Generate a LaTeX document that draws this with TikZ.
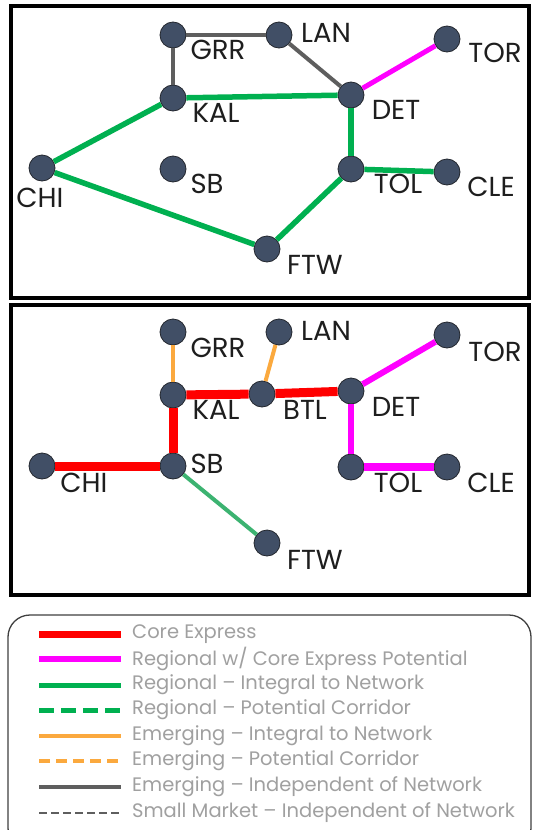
\documentclass[tikz,border=0pt]{standalone}
\usepackage{fontspec}
\setmainfont{Poppins}
\definecolor{stnfill}{HTML}{414F66}
\definecolor{stnline}{HTML}{23272E}
\definecolor{cgrey}{HTML}{5E5E5E}
\definecolor{cgreen}{HTML}{00B050}
\definecolor{clgreen}{HTML}{3CB371}
\definecolor{cmag}{HTML}{FF00FF}
\definecolor{cred}{HTML}{FF0000}
\definecolor{corange}{HTML}{FBA93E}
\definecolor{ctext}{HTML}{1E1E1E}
\definecolor{cleg}{HTML}{A0A0A0}
\begin{document}
\begin{tikzpicture}[x=1pt,y=-1pt,
  stn/.style={circle, fill=stnfill, draw=stnline, line width=0.8pt, minimum size=26pt, inner sep=0pt},
  lbl/.style={font=\fontsize{27.5}{27.5}\selectfont, text=ctext, inner sep=0pt},
  panel/.style={draw=black, line width=3.5pt},
  egrey/.style={draw=cgrey, line width=4pt},
  egreen/.style={draw=cgreen, line width=5.5pt},
  elgreen/.style={draw=clgreen, line width=4pt},
  emag/.style={draw=cmag, line width=6pt},
  ered/.style={draw=cred, line width=9pt},
  eorange/.style={draw=corange, line width=4pt},
  legtxt/.style={font=\fontsize{19.5}{19.5}\selectfont, text=cleg, anchor=west, inner sep=0pt},
]
\useasboundingbox (0,0) rectangle (535,830);
\fill[white] (0,0) rectangle (535,830);

% ---------- top panel ----------
\draw[panel] (11,6) rectangle (529,298);
\node[stn] (aGRR) at (173,35) {};
\node[stn] (aLAN) at (279,35) {};
\node[stn] (aTOR) at (447,39) {};
\node[stn] (aKAL) at (173,98) {};
\node[stn] (aDET) at (351,95) {};
\node[stn] (aCHI) at (42,168) {};
\node[stn] (aSB)  at (173,169) {};
\node[stn] (aTOL) at (351,169) {};
\node[stn] (aCLE) at (447,172) {};
\node[stn] (aFTW) at (267,249) {};
\draw[egrey] (aGRR) -- (aLAN);
\draw[egrey] (aGRR) -- (aKAL);
\draw[egrey] (aLAN) -- (aDET);
\draw[emag, line width=5pt] (aDET) -- (aTOR);
\draw[egreen] (aKAL) -- (aDET);
\draw[egreen] (aCHI) -- (aKAL);
\draw[egreen] (aCHI) -- (aFTW);
\draw[egreen] (aFTW) -- (aTOL);
\draw[egreen] (aDET) -- (aTOL);
\draw[egreen] (aTOL) -- (aCLE);
\node[lbl] (laGRR) at (218,50) {GRR};
\node[lbl] (laLAN) at (326,33) {LAN};
\node[lbl] (laTOR) at (495,53) {TOR};
\node[lbl] (laKAL) at (216,113) {KAL};
\node[lbl] (laDET) at (396,110) {DET};
\node[lbl] (laCHI) at (40,198) {CHI};
\node[lbl] (laSB)  at (207,184) {SB};
\node[lbl] (laTOL) at (398,184) {TOL};
\node[lbl] (laCLE) at (491,187) {CLE};
\node[lbl] (laFTW) at (315,265) {FTW};

% ---------- bottom panel ----------
\draw[panel] (11,305) rectangle (529,595);
\node[stn] (bGRR) at (173,332) {};
\node[stn] (bLAN) at (279,332) {};
\node[stn] (bTOR) at (447,335) {};
\node[stn] (bKAL) at (173,395) {};
\node[stn] (bBTL) at (262,394) {};
\node[stn] (bDET) at (351,391) {};
\node[stn] (bCHI) at (42,466) {};
\node[stn] (bSB)  at (173,466) {};
\node[stn] (bTOL) at (351,467) {};
\node[stn] (bCLE) at (447,467) {};
\node[stn] (bFTW) at (267,543) {};
\draw[eorange] (bGRR) -- (bKAL);
\draw[eorange] (bLAN) -- (bBTL);
\draw[ered] (bKAL) -- (bBTL);
\draw[ered] (bBTL) -- (bDET);
\draw[ered] (bKAL) -- (bSB);
\draw[ered] (bCHI) -- (bSB);
\draw[emag] (bDET) -- (bTOR);
\draw[emag] (bDET) -- (bTOL);
\draw[emag, line width=8pt] (bTOL) -- (bCLE);
\draw[elgreen] (bSB) -- (bFTW);
\node[lbl] (lbGRR) at (218,348) {GRR};
\node[lbl] (lbLAN) at (326,331) {LAN};
\node[lbl] (lbTOR) at (495,352) {TOR};
\node[lbl] (lbKAL) at (216,410) {KAL};
\node[lbl] (lbBTL) at (305,410) {BTL};
\node[lbl] (lbDET) at (396,407) {DET};
\node[lbl] (lbCHI) at (84,483) {CHI};
\node[lbl] (lbSB)  at (207,464) {SB};
\node[lbl] (lbTOL) at (398,483) {TOL};
\node[lbl] (lbCLE) at (491,483) {CLE};
\node[lbl] (lbFTW) at (315,560) {FTW};

% ---------- legend ----------
\draw[draw=black!75, line width=1.3pt, rounded corners=22pt] (8,615) rectangle (531,850);
\draw[cred, line width=7pt] (39,634) -- (121,634);
\draw[cmag, line width=6pt] (39,659) -- (121,659);
\draw[cgreen, line width=5pt] (39,685) -- (121,685);
\draw[cgreen, line width=5pt, dash pattern=on 15pt off 7pt] (39,710) -- (121,710);
\draw[corange, line width=3.5pt] (39,736) -- (121,736);
\draw[corange, line width=3.5pt, dash pattern=on 10.5pt off 6.5pt] (39,761) -- (121,761);
\draw[cgrey, line width=4pt] (39,787) -- (121,787);
\draw[cgrey, line width=2.2pt, dash pattern=on 8pt off 4pt] (39,813) -- (121,813);
\node[legtxt] (t1) at (132,634) {Core Express};
\node[legtxt] (t2) at (132,659) {Regional w/ Core Express Potential};
\node[legtxt] (t3) at (132,685) {Regional – Integral to Network};
\node[legtxt] (t4) at (132,710) {Regional – Potential Corridor};
\node[legtxt] (t5) at (132,736) {Emerging – Integral to Network};
\node[legtxt] (t6) at (132,761) {Emerging – Potential Corridor};
\node[legtxt] (t7) at (132,787) {Emerging – Independent of Network};
\node[legtxt] (t8) at (132,813) {Small Market – Independent of Network};
\end{tikzpicture}
\end{document}
